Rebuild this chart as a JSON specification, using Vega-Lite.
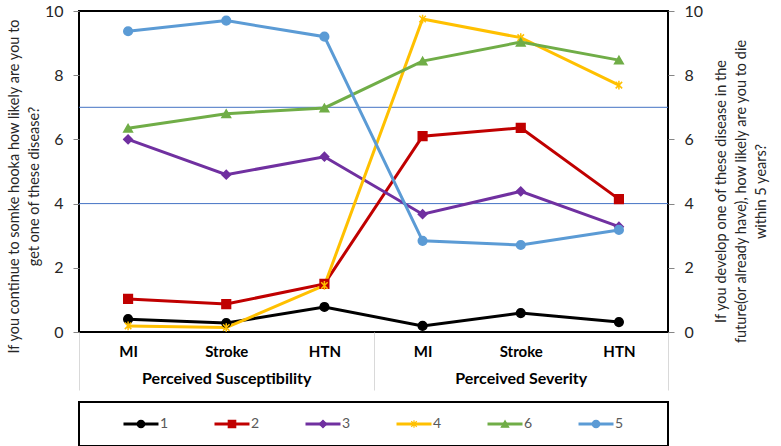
{
  "$schema": "https://vega.github.io/schema/vega-lite/v6.json",
  "description": "Perceived susceptibility and severity scores by group",
  "background": "white",
  "padding": {"left": 5, "top": 2, "right": 5, "bottom": 5},
  "spacing": 9,
  "config": {
    "font": "Lato",
    "view": {"stroke": "black", "strokeWidth": 2},
    "axis": {"labelFont": "Lato", "titleFont": "Lato"}
  },
  "datasets": {
    "scores": [
      {"series": "1", "key": "S|MI", "group": "Perceived Susceptibility", "value": 0.40},
      {"series": "1", "key": "S|Stroke", "group": "Perceived Susceptibility", "value": 0.28},
      {"series": "1", "key": "S|HTN", "group": "Perceived Susceptibility", "value": 0.78},
      {"series": "1", "key": "V|MI", "group": "Perceived Severity", "value": 0.19},
      {"series": "1", "key": "V|Stroke", "group": "Perceived Severity", "value": 0.59},
      {"series": "1", "key": "V|HTN", "group": "Perceived Severity", "value": 0.31},
      {"series": "2", "key": "S|MI", "group": "Perceived Susceptibility", "value": 1.03},
      {"series": "2", "key": "S|Stroke", "group": "Perceived Susceptibility", "value": 0.87},
      {"series": "2", "key": "S|HTN", "group": "Perceived Susceptibility", "value": 1.50},
      {"series": "2", "key": "V|MI", "group": "Perceived Severity", "value": 6.10},
      {"series": "2", "key": "V|Stroke", "group": "Perceived Severity", "value": 6.36},
      {"series": "2", "key": "V|HTN", "group": "Perceived Severity", "value": 4.14},
      {"series": "3", "key": "S|MI", "group": "Perceived Susceptibility", "value": 6.00},
      {"series": "3", "key": "S|Stroke", "group": "Perceived Susceptibility", "value": 4.90},
      {"series": "3", "key": "S|HTN", "group": "Perceived Susceptibility", "value": 5.46},
      {"series": "3", "key": "V|MI", "group": "Perceived Severity", "value": 3.67},
      {"series": "3", "key": "V|Stroke", "group": "Perceived Severity", "value": 4.38},
      {"series": "3", "key": "V|HTN", "group": "Perceived Severity", "value": 3.28},
      {"series": "4", "key": "S|MI", "group": "Perceived Susceptibility", "value": 0.19},
      {"series": "4", "key": "S|Stroke", "group": "Perceived Susceptibility", "value": 0.14},
      {"series": "4", "key": "S|HTN", "group": "Perceived Susceptibility", "value": 1.45},
      {"series": "4", "key": "V|MI", "group": "Perceived Severity", "value": 9.75},
      {"series": "4", "key": "V|Stroke", "group": "Perceived Severity", "value": 9.17},
      {"series": "4", "key": "V|HTN", "group": "Perceived Severity", "value": 7.69},
      {"series": "6", "key": "S|MI", "group": "Perceived Susceptibility", "value": 6.35},
      {"series": "6", "key": "S|Stroke", "group": "Perceived Susceptibility", "value": 6.80},
      {"series": "6", "key": "S|HTN", "group": "Perceived Susceptibility", "value": 6.98},
      {"series": "6", "key": "V|MI", "group": "Perceived Severity", "value": 8.44},
      {"series": "6", "key": "V|Stroke", "group": "Perceived Severity", "value": 9.03},
      {"series": "6", "key": "V|HTN", "group": "Perceived Severity", "value": 8.47},
      {"series": "5", "key": "S|MI", "group": "Perceived Susceptibility", "value": 9.37},
      {"series": "5", "key": "S|Stroke", "group": "Perceived Susceptibility", "value": 9.70},
      {"series": "5", "key": "S|HTN", "group": "Perceived Susceptibility", "value": 9.20},
      {"series": "5", "key": "V|MI", "group": "Perceived Severity", "value": 2.84},
      {"series": "5", "key": "V|Stroke", "group": "Perceived Severity", "value": 2.71},
      {"series": "5", "key": "V|HTN", "group": "Perceived Severity", "value": 3.18}
    ],
    "refs": [{"ref": 4}, {"ref": 7}],
    "series": [
      {"series": "1"}, {"series": "2"}, {"series": "3"},
      {"series": "4"}, {"series": "6"}, {"series": "5"}
    ]
  },
  "vconcat": [
    {
      "width": 589,
      "height": 321,
      "layer": [
        {
          "layer": [
            {
              "data": {"name": "refs"},
              "mark": {"type": "rule", "color": "#4472C4", "strokeWidth": 1},
              "encoding": {
                "y": {"field": "ref", "type": "quantitative", "scale": {"domain": [0, 10]}}
              }
            },
            {
              "data": {"name": "scores"},
              "encoding": {
                "x": {
                  "field": "key",
                  "type": "nominal",
                  "sort": ["S|MI", "S|Stroke", "S|HTN", "V|MI", "V|Stroke", "V|HTN"],
                  "axis": {
                    "title": null,
                    "domain": false,
                    "ticks": false,
                    "labelAngle": 0,
                    "labelPadding": 12,
                    "labelFontSize": 15,
                    "labelFontWeight": "bold",
                    "labelColor": "#000000",
                    "labelExpr": "split(datum.label, '|')[1]"
                  }
                },
                "y": {
                  "field": "value",
                  "type": "quantitative",
                  "scale": {"domain": [0, 10]},
                  "axis": {
                    "values": [0, 2, 4, 6, 8, 10],
                    "grid": false,
                    "domain": false,
                    "tickSize": 6,
                    "tickColor": "#868686",
                    "labelPadding": 10,
                    "labelFontSize": 16,
                    "labelColor": "#262626",
                    "title": ["If you continue to somke hooka how likely are you to", "get one of these disease?"],
                    "titleFontSize": 14.5,
                    "titleFontWeight": "normal",
                    "titleColor": "#262626",
                    "titleLineHeight": 20,
                    "titlePadding": 3,
                    "titleY": 175
                  }
                },
                "color": {
                  "field": "series",
                  "type": "nominal",
                  "scale": {
                    "domain": ["1", "2", "3", "4", "6", "5"],
                    "range": ["#000000", "#C00000", "#7030A0", "#FFC000", "#70AD47", "#5B9BD5"]
                  },
                  "legend": null
                }
              },
              "layer": [
                {"mark": {"type": "line", "strokeWidth": 3}},
                {
                  "mark": {"type": "point", "filled": true, "opacity": 1, "size": 75, "strokeWidth": 1.5},
                  "encoding": {
                    "stroke": {
                      "field": "series",
                      "type": "nominal",
                      "scale": {
                        "domain": ["1", "2", "3", "4", "6", "5"],
                        "range": ["#000000", "#C00000", "#7030A0", "#FFC000", "#70AD47", "#5B9BD5"]
                      },
                      "legend": null
                    },
                    "shape": {
                      "field": "series",
                      "type": "nominal",
                      "scale": {
                        "domain": ["1", "2", "3", "4", "6", "5"],
                        "range": ["circle", "square", "diamond", "M-0.75,-0.75L0.75,0.75M-0.75,0.75L0.75,-0.75M0,-1L0,1", "triangle-up", "circle"]
                      },
                      "legend": null
                    }
                  }
                }
              ]
            }
          ]
        },
        {
          "data": {"name": "scores"},
          "mark": {"type": "point", "opacity": 0},
          "encoding": {
            "y": {
              "field": "value",
              "type": "quantitative",
              "scale": {"domain": [0, 10]},
              "axis": {
                "orient": "right",
                "values": [0, 2, 4, 6, 8, 10],
                "grid": false,
                "domain": false,
                "tickSize": 6,
                "tickColor": "#868686",
                "labelPadding": 10,
                "labelFontSize": 16,
                "labelColor": "#262626",
                "title": ["If you develop one of these disease in the", "future(or already have), how likely are you to die", "within 5 years?"],
                "titleFontSize": 14.5,
                "titleFontWeight": "normal",
                "titleColor": "#262626",
                "titleLineHeight": 20,
                "titleAngle": 270,
                "titlePadding": -14,
                "titleY": 180
              }
            }
          }
        },
        {
          "data": {"name": "scores"},
          "mark": {"type": "point", "opacity": 0},
          "encoding": {
            "x": {
              "field": "group",
              "type": "nominal",
              "sort": ["Perceived Susceptibility", "Perceived Severity"],
              "scale": {"type": "band", "paddingInner": 0, "paddingOuter": 0},
              "axis": {
                "orient": "bottom",
                "title": null,
                "domain": false,
                "ticks": true,
                "tickBand": "extent",
                "tickSize": 58,
                "tickColor": "#D9D9D9",
                "tickWidth": 1,
                "labelAngle": 0,
                "labelPadding": -20,
                "labelFontSize": 16,
                "labelFontWeight": "bold",
                "labelColor": "#000000"
              }
            }
          }
        }
      ],
      "resolve": {"scale": {"x": "independent", "y": "independent"}}
    },
    {
      "width": 589,
      "height": 44,
      "data": {"name": "series"},
      "encoding": {
        "x": {
          "field": "series",
          "type": "nominal",
          "sort": ["1", "2", "3", "4", "6", "5"],
          "scale": {"type": "band", "paddingInner": 0, "paddingOuter": 0.236},
          "axis": null
        },
        "color": {
          "field": "series",
          "type": "nominal",
          "scale": {
            "domain": ["1", "2", "3", "4", "6", "5"],
            "range": ["#000000", "#C00000", "#7030A0", "#FFC000", "#70AD47", "#5B9BD5"]
          },
          "legend": null
        }
      },
      "layer": [
        {"mark": {"type": "point", "shape": "stroke", "size": 1225, "strokeWidth": 3, "filled": false, "opacity": 1, "xOffset": -5}},
        {
          "mark": {"type": "point", "filled": true, "opacity": 1, "size": 55, "strokeWidth": 1.2, "xOffset": -5},
          "encoding": {
            "stroke": {
              "field": "series",
              "type": "nominal",
              "scale": {
                "domain": ["1", "2", "3", "4", "6", "5"],
                "range": ["#000000", "#C00000", "#7030A0", "#FFC000", "#70AD47", "#5B9BD5"]
              },
              "legend": null
            },
            "shape": {
              "field": "series",
              "type": "nominal",
              "scale": {
                "domain": ["1", "2", "3", "4", "6", "5"],
                "range": ["circle", "square", "diamond", "M-0.75,-0.75L0.75,0.75M-0.75,0.75L0.75,-0.75M0,-1L0,1", "triangle-up", "circle"]
              },
              "legend": null
            }
          }
        },
        {
          "mark": {"type": "text", "align": "left", "xOffset": 14, "fontSize": 14, "color": "#595959"},
          "encoding": {"text": {"field": "series"}, "color": {"value": "#595959"}}
        }
      ]
    }
  ]
}
